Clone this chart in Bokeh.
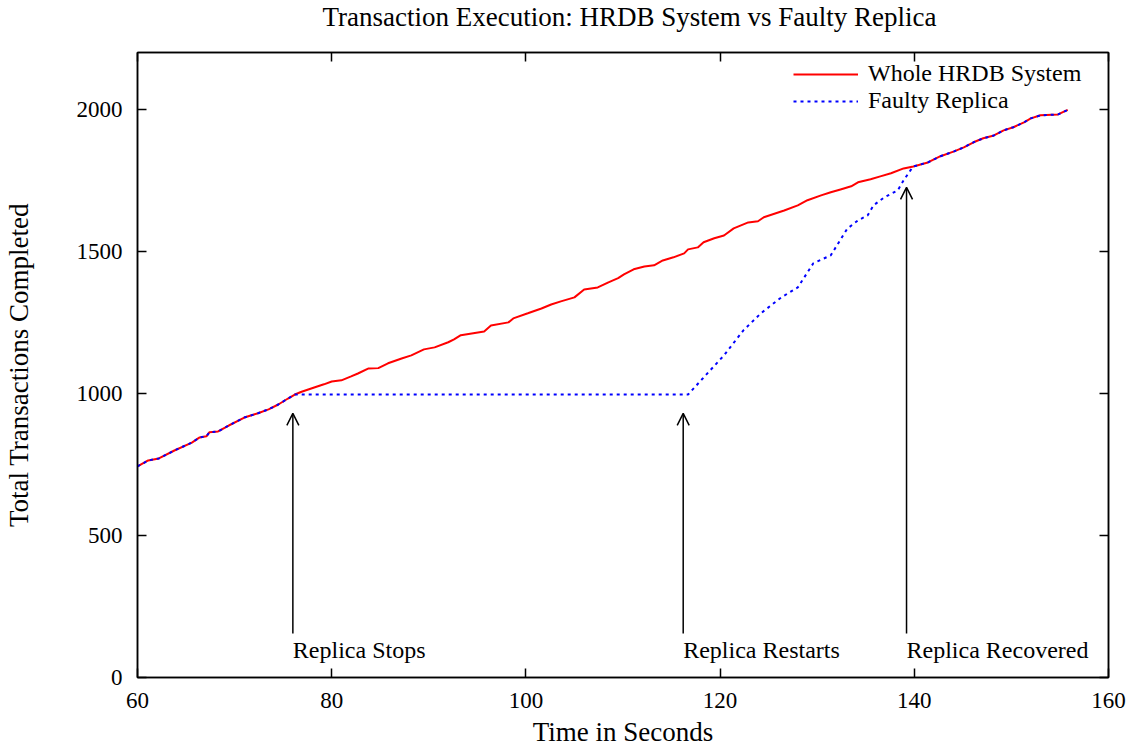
from bokeh.plotting import figure
from bokeh.models import (ColumnDataSource, LinearAxis, FixedTicker, Range1d, Arrow,
                          OpenHead, LabelSet, Label, Legend, LegendItem)
from bokeh.embed import file_html
from bokeh.resources import INLINE
from bokeh.core.properties import value

# ---------------- data ----------------
whole_t = [60.0, 61.1, 62.2, 63.8, 65.6, 66.4, 67.1, 67.4, 68.3, 69.4, 71.0, 72.4, 73.5,
           74.5, 75.5, 76.2, 76.9, 78.2, 79.2, 80.0, 81.0, 82.0, 82.7, 83.8, 84.8, 85.8,
           87.2, 88.2, 89.5, 90.6, 92.0, 92.6, 93.3, 95.7, 96.4, 98.2, 98.7, 100.2, 101.6,
           102.6, 103.6, 105.0, 106.0, 107.4, 108.5, 109.5, 110.1, 111.1, 112.2, 113.2,
           114.1, 115.2, 116.3, 116.7, 117.7, 118.3, 119.4, 120.4, 121.4, 122.4, 122.9,
           123.9, 124.5, 125.9, 126.6, 128.0, 129.0, 130.4, 131.4, 132.4, 133.5, 134.2,
           135.5, 136.5, 137.6, 138.9, 139.9, 141.4, 142.7, 144.1, 145.1, 146.1, 147.1,
           148.2, 149.2, 150.2, 151.3, 152.0, 153.0, 154.8, 155.8]
whole_y = [743, 764, 771, 799, 827, 845, 849, 863, 866, 887, 915, 930, 944,
           961, 982, 996, 1006, 1021, 1032, 1042, 1046, 1060, 1070, 1088, 1089, 1106,
           1123, 1134, 1155, 1162, 1180, 1190, 1205, 1218, 1239, 1250, 1264, 1282, 1299,
           1313, 1324, 1338, 1366, 1373, 1391, 1406, 1419, 1437, 1447, 1451,
           1468, 1479, 1493, 1507, 1514, 1532, 1546, 1556, 1581, 1595, 1602,
           1606, 1620, 1636, 1644, 1662, 1680, 1697, 1708, 1718, 1729, 1743,
           1754, 1764, 1775, 1792, 1799, 1813, 1835, 1852, 1866, 1884, 1898,
           1908, 1926, 1937, 1954, 1968, 1979, 1982, 1998]

# faulty replica: follows the whole system except between stop and recovery
stop_t = 76.2
recovered_t = 139.9
gap_t = [76.2, 116.7, 118.3, 120.4, 122.4, 124.2, 126.3, 128.0, 129.6, 131.4, 133.1,
         134.2, 135.2, 135.8, 136.9, 138.3, 138.9, 139.6, 139.9]
gap_y = [996, 996, 1056, 1134, 1222, 1282, 1338, 1373, 1458, 1486, 1580,
         1609, 1627, 1662, 1690, 1715, 1750, 1785, 1799]

event_t = [76.0, 116.2, 139.2]
event_tip = [930, 930, 1725]
event_base = [155, 155, 155]
event_labels = ["Replica Stops", "Replica Restarts", "Replica Recovered"]

x_ticks = [60, 80, 100, 120, 140, 160]
y_ticks = [0, 500, 1000, 1500, 2000]

TITLE = "Transaction Execution: HRDB System vs Faulty Replica"

# ---------------- build faulty series ----------------
faulty_t, faulty_y = [], []
for t, y in zip(whole_t, whole_y):
    if t < stop_t:
        faulty_t.append(t); faulty_y.append(y)
faulty_t += gap_t
faulty_y += gap_y
for t, y in zip(whole_t, whole_y):
    if t > recovered_t:
        faulty_t.append(t); faulty_y.append(y)

FONT = "Liberation Serif"
TICK_FS = "23px"
TEXT_FS = "24px"
LABEL_FS = "27px"

p = figure(width=1135, height=750, output_backend="svg", toolbar_location=None,
           x_range=Range1d(60, 160), y_range=Range1d(0, 2200),
           min_border_left=136, min_border_right=27, min_border_top=52, min_border_bottom=73,
           x_axis_label="Time in Seconds", y_axis_label="Total Transactions Completed")

p.grid.visible = False
p.outline_line_color = "black"
p.outline_line_width = 1.5
p.background_fill_color = "white"
p.border_fill_color = "white"

for ax, ticks in ((p.xaxis[0], x_ticks), (p.yaxis[0], y_ticks)):
    ax.ticker = FixedTicker(ticks=ticks)
    ax.major_tick_in = 9
    ax.major_tick_out = 0
    ax.minor_tick_in = 0
    ax.minor_tick_out = 0
    ax.axis_line_width = 1.5
    ax.axis_line_color = "black"
    ax.major_tick_line_width = 1.5
    ax.major_tick_line_color = "black"
    ax.major_label_text_font = FONT
    ax.major_label_text_font_size = TICK_FS
    ax.major_label_text_color = "black"
    ax.axis_label_text_font = FONT
    ax.axis_label_text_font_size = LABEL_FS
    ax.axis_label_text_font_style = "normal"
    ax.axis_label_text_color = "black"

p.xaxis[0].major_label_standoff = 15
p.xaxis[0].axis_label_standoff = 6
p.yaxis[0].major_label_standoff = 15
p.yaxis[0].axis_label_standoff = 40

# mirrored ticks on top and right (labels not drawn)
top = LinearAxis(ticker=FixedTicker(ticks=x_ticks), major_tick_in=9, major_tick_out=0,
                 minor_tick_in=0, minor_tick_out=0, major_label_text_font_size="1px",
                 major_label_text_color=None, axis_line_color="black",
                 major_tick_line_color="black",
                 major_label_standoff=0, axis_line_width=1.5, major_tick_line_width=1.5)
right = LinearAxis(ticker=FixedTicker(ticks=y_ticks), major_tick_in=9, major_tick_out=0,
                   minor_tick_in=0, minor_tick_out=0, major_label_text_font_size="1px",
                   major_label_text_color=None, axis_line_color="black",
                   major_tick_line_color="black",
                   major_label_standoff=0, axis_line_width=1.5, major_tick_line_width=1.5)
p.add_layout(top, "above")
p.add_layout(right, "right")

r1 = p.line(whole_t, whole_y, line_color="#ff0000", line_width=2)
r2 = p.line(faulty_t, faulty_y, line_color="#0000ff", line_width=2, line_dash="3 4")

ev_src = ColumnDataSource(dict(x=event_t, y0=event_base, y1=event_tip,
                               label=event_labels, ly=[70] * len(event_t)))
p.add_layout(Arrow(end=OpenHead(size=12, line_width=1.5, line_color="black"),
                   x_start="x", y_start="y0", x_end="x", y_end="y1", source=ev_src,
                   line_width=1.5, line_color="black"))
p.add_layout(LabelSet(x="x", y="ly", text="label", source=ev_src,
                      text_font=value(FONT), text_font_size=value(TEXT_FS),
                      text_align="left", text_baseline="alphabetic", text_color="black"))

# chart title in the top border panel
p.add_layout(Label(x=185, y=36, x_units="screen", y_units="screen", text=TITLE,
                   text_font=FONT, text_font_size=LABEL_FS, text_align="left",
                   text_baseline="alphabetic", text_color="black"), "above")

legend = Legend(items=[LegendItem(label="Whole HRDB System", renderers=[r1]),
                       LegendItem(label="Faulty Replica", renderers=[r2])],
                location=(656, 563), border_line_color=None, background_fill_alpha=0,
                label_text_font=FONT, label_text_font_size=TEXT_FS,
                label_text_color="black", glyph_width=65,
                glyph_height=24, label_height=24, spacing=-3, padding=4, margin=0,
                label_standoff=10)
p.add_layout(legend)

open("out.html", "w").write(file_html(p, INLINE))
